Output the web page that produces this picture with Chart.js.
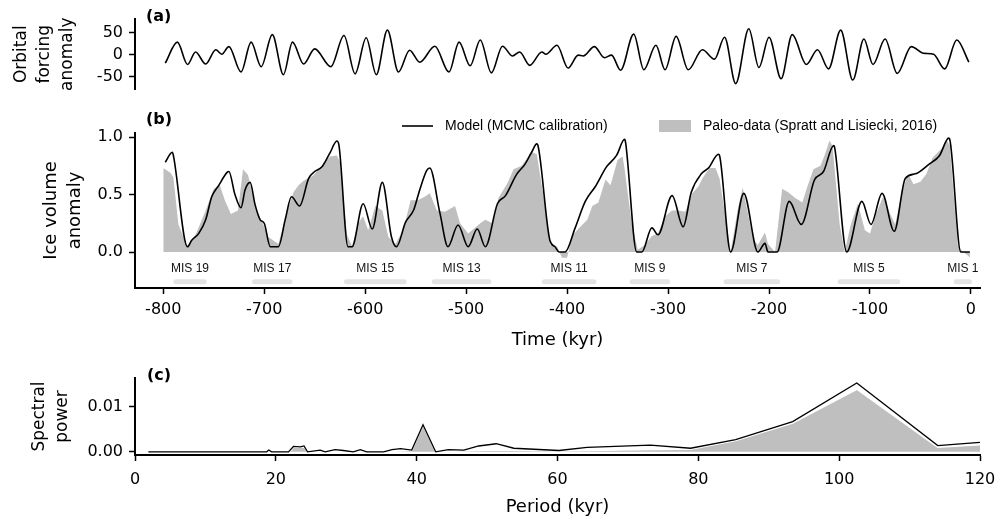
<!DOCTYPE html>
<html>
<head>
<meta charset="utf-8">
<script src="https://cdn.jsdelivr.net/npm/chart.js@4.4.1/dist/chart.umd.min.js"></script>
<style>
    html, body { margin: 0; padding: 0; background: #fff; }
    #wrap { position: relative; width: 996px; height: 522px; overflow: hidden; }
    canvas { position: absolute; left: 0; }
</style>
</head>
<body>
<div id="wrap">
    <canvas id="chartA" width="996" height="105" style="top:0px"></canvas>
    <canvas id="chartB" width="996" height="245" style="top:105px"></canvas>
    <canvas id="chartC" width="996" height="172" style="top:350px"></canvas>
</div>
<script>
// (a) orbital forcing anomaly - turning points
const forcingTime = [-798, -786, -776, -768, -758, -748, -742, -735, -723, -713,
    -703, -692, -681, -672, -661, -650, -634, -621, -610, -599,
    -589, -578, -567, -556, -546, -531, -517, -507, -496, -486,
    -475, -464, -454, -447, -437, -425, -421, -410, -399, -389,
    -384, -373, -363, -356, -347, -334, -324, -312, -303, -292,
    -280, -266, -254, -244, -233, -220, -210, -200, -188, -177,
    -163, -152, -141, -129, -117, -106, -97, -85, -73, -59,
    -47, -37, -26, -14, -2];
const forcingValue = [-19, 28, -22, 6, -21, 11, 1, 18, -39, 28,
    -27, 45, -45, 28, -21, 13, -27, 43, -43, 38,
    -45, 55, -39, 10, -17, 19, -39, 28, -25, 33,
    -41, 19, -3, 6, -24, 6, 1, 21, -30, -1,
    -3, 18, -7, -1, -35, 46, -34, 21, -34, 41,
    -34, 11, -10, 39, -65, 58, -29, 39, -54, 45,
    -22, 11, -32, 55, -57, 35, -22, 35, -42, 18,
    3, 1, -32, 33, -17];

// (b) ice volume anomaly - model (MCMC calibration)
const modelTime = [-798, -791, -790, -776, -772, -765, -758, -752, -745, -737,
    -735, -729, -723, -719, -714, -709, -704, -700, -694, -686,
    -679, -673, -665, -656, -650, -643, -635, -628, -626, -617,
    -613, -602, -593, -583, -574, -569, -560, -552, -546, -539,
    -536, -526, -518, -508, -498, -489, -481, -469, -461, -450,
    -442, -435, -430, -429, -417, -412, -408, -402, -392, -382,
    -372, -361, -351, -343, -342, -331, -326, -316, -310, -296,
    -285, -277, -267, -260, -250, -249, -238, -225, -211, -204,
    -201, -192, -180, -168, -155, -146, -136, -135, -123, -108,
    -99, -88, -76, -65, -55, -42, -31, -22, -21, -10, -1];
const modelIce = [0.78, 0.867, 0.84, 0.046, 0.10, 0.16, 0.28, 0.48, 0.58, 0.69,
    0.70, 0.50, 0.385, 0.54, 0.606, 0.41, 0.28, 0.25, 0.046, 0.046,
    0.29, 0.48, 0.40, 0.64, 0.70, 0.74, 0.86, 0.965, 0.93, 0.046,
    0.046, 0.42, 0.20, 0.606, 0.133, 0.046, 0.26, 0.365, 0.54, 0.71,
    0.73, 0.34, 0.046, 0.235, 0.046, 0.20, 0.046, 0.42, 0.49, 0.675,
    0.76, 0.87, 0.94, 0.93, 0.10, 0.046, 0.0, 0.0, 0.21, 0.44,
    0.57, 0.74, 0.84, 0.98, 0.95, 0.0, 0.0, 0.21, 0.15, 0.49,
    0.22, 0.52, 0.68, 0.73, 0.85, 0.84, 0.0, 0.51, 0.0, 0.075,
    0.0, 0.0, 0.44, 0.24, 0.626, 0.70, 0.925, 0.91, 0.0, 0.44,
    0.24, 0.51, 0.18, 0.64, 0.68, 0.76, 0.84, 0.99, 0.98, 0.0, 0.0];

// (b) paleo-data (Spratt and Lisiecki, 2016)
const paleoTime = [-800, -793, -790, -785, -780, -776, -768, -758, -750, -744,
    -739, -733, -726, -721, -716, -709, -702, -696, -691, -686,
    -677, -671, -666, -661, -652, -643, -635, -628, -625, -618,
    -613, -607, -602, -597, -590, -583, -577, -570, -562, -555,
    -548, -541, -536, -529, -521, -511, -506, -498, -486, -481,
    -474, -468, -459, -453, -445, -435, -430, -424, -417, -410,
    -405, -400, -395, -389, -380, -375, -369, -362, -357, -350,
    -345, -343, -336, -330, -323, -316, -310, -303, -296, -290,
    -283, -276, -270, -266, -259, -253, -249, -242, -238, -231,
    -226, -221, -216, -211, -204, -201, -194, -187, -181, -174,
    -167, -162, -156, -149, -145, -140, -137, -130, -125, -119,
    -112, -105, -100, -94, -87, -80, -75, -68, -62, -57,
    -50, -44, -38, -29, -24, -21, -13, -8, -3, -1];
const paleoIce = [0.73, 0.69, 0.65, 0.24, 0.13, 0.05, 0.15, 0.36, 0.55, 0.58,
    0.45, 0.33, 0.36, 0.72, 0.67, 0.40, 0.26, 0.13, 0.10, 0.07,
    0.36, 0.52, 0.58, 0.62, 0.66, 0.75, 0.83, 0.84, 0.78, 0.15,
    0.05, 0.25, 0.31, 0.19, 0.40, 0.36, 0.13, 0.07, 0.20, 0.45,
    0.45, 0.48, 0.51, 0.36, 0.35, 0.40, 0.25, 0.16, 0.25, 0.28,
    0.25, 0.47, 0.60, 0.72, 0.75, 0.87, 0.85, 0.52, 0.06, 0.05,
    -0.05, -0.05, 0.14, 0.20, 0.28, 0.40, 0.43, 0.63, 0.58, 0.80,
    0.83, 0.72, 0.25, 0.02, 0.06, 0.14, 0.16, 0.31, 0.36, 0.36,
    0.35, 0.51, 0.57, 0.64, 0.73, 0.73, 0.64, 0.24, 0.0, 0.37,
    0.56, 0.34, 0.12, 0.06, 0.17, 0.07, 0.0, 0.55, 0.52, 0.47,
    0.43, 0.57, 0.72, 0.75, 0.84, 0.97, 0.92, 0.24, 0.0, 0.24,
    0.42, 0.19, 0.16, 0.33, 0.48, 0.33, 0.24, 0.53, 0.68, 0.59,
    0.61, 0.68, 0.82, 0.90, 0.97, 0.93, 0.06, 0.0, -0.03, -0.05];

// marine isotope stages (interglacials)
const misNames = ['MIS 19', 'MIS 17', 'MIS 15', 'MIS 13', 'MIS 11', 'MIS 9', 'MIS 7', 'MIS 5', 'MIS 1'];
const misStart = [-790, -712, -621, -534, -425, -338, -245, -132, -17];
const misEnd = [-757, -672, -559, -475, -371, -298, -189, -70, 1];

// (c) spectral power
const periodModel = [1.9, 18.7, 19, 19.4, 21.8, 22.5, 23.5, 24, 24.5, 26.3,
    27, 28.4, 29.6, 31, 32, 32.9, 35.3, 36.5, 37.7, 39.3,
    40.9, 42.7, 44.5, 46.7, 48.8, 51.3, 53.8, 60.2, 64.2, 73.2,
    78.9, 85.3, 93.4, 102.5, 114, 120];
const powerModel = [0, 0, 0.0004, 0, 0, 0.0012, 0.0011, 0.0013, 0, 0.0004,
    0, 0.0005, 0.0003, 0, 0.0005, 0, 0, 0.0005, 0.0007, 0.0004,
    0.006, 0, 0.0005, 0.0004, 0.0013, 0.0018, 0.0008, 0.0003, 0.001, 0.0015,
    0.0008, 0.0027, 0.0067, 0.0153, 0.0014, 0.0021];
const periodPaleo = [1.9, 19, 22, 22.5, 24, 24.5, 35, 39.3, 40.9, 42.7,
    48.8, 51.3, 60.2, 64.2, 73.2, 78.9, 85.3, 93.4, 102.5, 114, 120];
const powerPaleo = [0, 0.0001, 0.0001, 0.001, 0.0011, 0, 0, 0.0003, 0.006, 0,
    0.0003, 0.0004, 0.0002, 0.0003, 0.0005, 0.0006, 0.0025, 0.0064, 0.0139, 0.001, 0.0016];

// tick labels
const forcingTicks = [-50, 0, 50];
const iceTicks = [0, 0.5, 1.0];
const timeTicks = [-800, -700, -600, -500, -400, -300, -200, -100, 0];
const powerTicks = [0, 0.01];
const periodTicks = [0, 20, 40, 60, 80, 100, 120];

const FONT = '"DejaVu Sans", sans-serif';
const SANS = '"Liberation Sans", Arial, sans-serif';
const AXIS_LEFT = 135;
const GREY = '#bfbfbf';

const toPoints = (xs, ys) => xs.map((x, i) => ({ x, y: ys[i] }));

function axisStyle(tickValues, fmt, tickPad) {
    return {
        afterBuildTicks: s => { s.ticks = tickValues.map(v => ({ value: v })); },
        grid: { drawOnChartArea: false, drawTicks: true, tickLength: 6, tickWidth: 1.5, tickColor: '#000' },
        border: { display: true, color: '#000', width: 2 },
        ticks: { color: '#000', font: { family: FONT, size: 16 }, padding: tickPad, maxRotation: 0, autoSkip: false, callback: fmt }
    };
}

function yAxis(min, max, tickValues, fmt, title, size, lh, pad) {
    return Object.assign(axisStyle(tickValues, fmt, 6), {
        type: 'linear', min, max,
        afterFit: s => { s.width = AXIS_LEFT; },
        title: { display: true, text: title, color: '#000', font: { family: FONT, size, lineHeight: lh }, padding: { top: pad, bottom: 0 } }
    });
}

function xAxis(min, max, tickValues, title, height, tickPad, pad) {
    return Object.assign(axisStyle(tickValues, v => String(v), tickPad), {
        type: 'linear', min, max,
        // keep the plot edges fixed, labels may hang over the margin
        afterFit: s => { s.height = height; s.paddingLeft = 0; s.paddingRight = 0; },
        title: { display: true, text: title, color: '#000', font: { family: FONT, size: 18, lineHeight: 1.1 }, padding: { top: 0, bottom: pad } }
    });
}

function panelLetter(text, x, y) {
    return {
        id: 'letter' + text,
        afterDraw(chart) {
            const ctx = chart.ctx;
            ctx.save();
            ctx.fillStyle = '#000';
            ctx.font = 'bold 16px ' + FONT;
            ctx.textAlign = 'left';
            ctx.textBaseline = 'middle';
            ctx.fillText(text, x, y);
            ctx.restore();
        }
    };
}

const baseOptions = {
    responsive: false,
    animation: false,
    events: [],
    plugins: { legend: { display: false }, tooltip: { enabled: false } },
    elements: { point: { radius: 0 } }
};

// ---------- (a) orbital forcing ----------
new Chart(document.getElementById('chartA'), {
    type: 'line',
    data: {
        datasets: [{
            data: toPoints(forcingTime, forcingValue),
            borderColor: '#000', borderWidth: 1.6,
            cubicInterpolationMode: 'monotone', fill: false
        }]
    },
    options: Object.assign({}, baseOptions, {
        layout: { padding: { top: 19, right: 16, bottom: 7, left: 0 } },
        scales: {
            x: { type: 'linear', min: -828, max: 9, display: false },
            y: yAxis(-78, 80, forcingTicks, v => String(v), ['Orbital', 'forcing', 'anomaly'], 17, 1.35, 10)
        }
    }),
    plugins: [panelLetter('(a)', 146, 17)]
});

// ---------- (b) ice volume ----------
const iceExtras = {
    id: 'iceExtras',
    afterDraw(chart) {
        const { ctx, scales: { x, y } } = chart;
        ctx.save();
        // MIS bars + labels
        ctx.lineCap = 'round';
        ctx.lineWidth = 5;
        ctx.strokeStyle = '#e3e3e3';
        ctx.fillStyle = '#111';
        ctx.font = '12px ' + SANS;
        ctx.textAlign = 'center';
        ctx.textBaseline = 'middle';
        misNames.forEach((name, i) => {
            const x0 = x.getPixelForValue(misStart[i]) + 2.5;
            const x1 = x.getPixelForValue(misEnd[i]) - 2.5;
            const yb = y.getPixelForValue(-0.258);
            ctx.beginPath();
            ctx.moveTo(x0, yb);
            ctx.lineTo(x1, yb);
            ctx.stroke();
            ctx.fillText(name, (x0 + x1) / 2, y.getPixelForValue(-0.142));
        });

        // legend
        ctx.lineCap = 'butt';
        ctx.strokeStyle = '#000';
        ctx.lineWidth = 1.6;
        ctx.beginPath();
        ctx.moveTo(402, 21);
        ctx.lineTo(433, 21);
        ctx.stroke();
        ctx.fillStyle = GREY;
        ctx.fillRect(659, 15, 32, 12);
        ctx.fillStyle = '#000';
        ctx.font = '14px ' + SANS;
        ctx.textAlign = 'left';
        ctx.fillText('Model (MCMC calibration)', 445, 21);
        ctx.fillText('Paleo-data (Spratt and Lisiecki, 2016)', 703, 21);
        ctx.restore();
    }
};

new Chart(document.getElementById('chartB'), {
    type: 'line',
    data: {
        datasets: [{
            label: 'Model (MCMC calibration)',
            data: toPoints(modelTime, modelIce),
            borderColor: '#000', borderWidth: 1.6,
            cubicInterpolationMode: 'monotone', fill: false, order: 0
        }, {
            label: 'Paleo-data (Spratt and Lisiecki, 2016)',
            data: toPoints(paleoTime, paleoIce),
            borderColor: 'rgba(0,0,0,0)', borderWidth: 1,
            backgroundColor: GREY, fill: 'origin', tension: 0, order: 1
        }]
    },
    options: Object.assign({}, baseOptions, {
        layout: { padding: { top: 28, right: 16, bottom: 0, left: 0 } },
        scales: {
            x: xAxis(-828, 9, timeTicks, 'Time (kyr)', 62, 6, 0),
            y: yAxis(-0.313, 1.035, iceTicks, v => v.toFixed(1), ['Ice volume', 'anomaly'], 18, 1.33, 39)
        }
    }),
    plugins: [iceExtras, panelLetter('(b)', 146, 15)]
});

// ---------- (c) spectral power ----------
new Chart(document.getElementById('chartC'), {
    type: 'line',
    data: {
        datasets: [{
            data: toPoints(periodModel, powerModel),
            borderColor: '#000', borderWidth: 1.3, tension: 0, fill: false, order: 0
        }, {
            data: toPoints(periodPaleo, powerPaleo),
            borderColor: '#fff', borderWidth: 1.5,
            backgroundColor: GREY, fill: 'origin', tension: 0, order: 1
        }]
    },
    options: Object.assign({}, baseOptions, {
        layout: { padding: { top: 28, right: 16, bottom: 0, left: 0 } },
        scales: {
            x: xAxis(0, 120, periodTicks, 'Period (kyr)', 67, 9, 5),
            y: yAxis(-0.0007, 0.0164, powerTicks, v => v.toFixed(2), ['Spectral', 'power'], 17, 1.3, 29)
        }
    }),
    plugins: [panelLetter('(c)', 147, 26)]
});
</script>
</body>
</html>
